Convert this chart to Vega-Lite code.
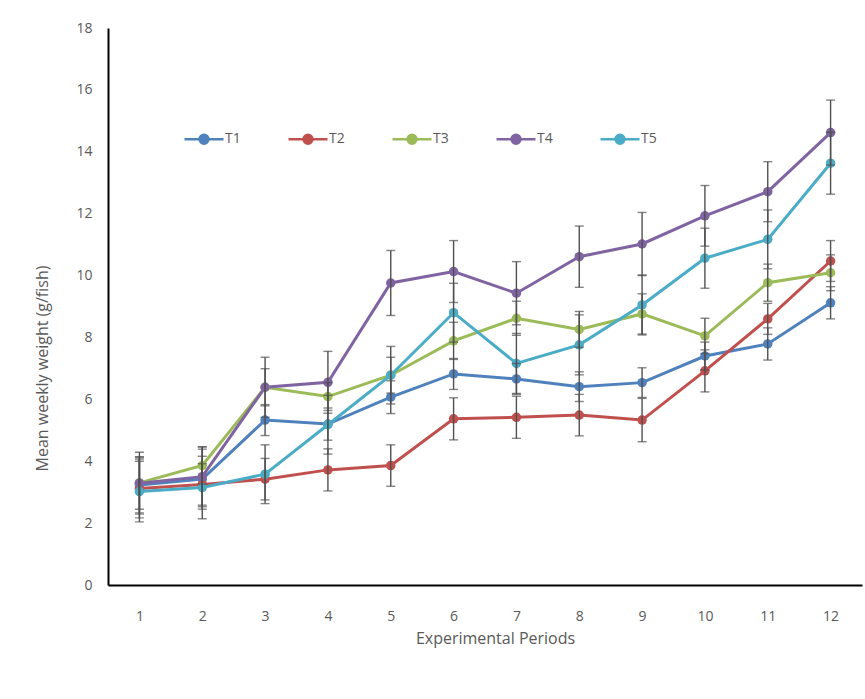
{
 "$schema": "https://vega.github.io/schema/vega-lite/v6.json",
 "width": 754, "height": 557,
 "autosize": {"type": "none"},
 "padding": {"left": 108, "top": 28, "right": 3, "bottom": 114},
 "background": "white",
 "config": {"view": {"stroke": null}, "font": "Open Sans"},
 "data": {"values": [
  {"period":1,"series":"T1","mean":3.23,"lo":2.33,"hi":4.13},
  {"period":2,"series":"T1","mean":3.42,"lo":2.45,"hi":4.39},
  {"period":3,"series":"T1","mean":5.33,"lo":4.83,"hi":5.83},
  {"period":4,"series":"T1","mean":5.20,"lo":4.68,"hi":5.72},
  {"period":5,"series":"T1","mean":6.07,"lo":5.54,"hi":6.60},
  {"period":6,"series":"T1","mean":6.82,"lo":6.32,"hi":7.32},
  {"period":7,"series":"T1","mean":6.66,"lo":6.16,"hi":7.16},
  {"period":8,"series":"T1","mean":6.41,"lo":5.93,"hi":6.89},
  {"period":9,"series":"T1","mean":6.54,"lo":6.06,"hi":7.02},
  {"period":10,"series":"T1","mean":7.40,"lo":6.95,"hi":7.85},
  {"period":11,"series":"T1","mean":7.79,"lo":7.27,"hi":8.31},
  {"period":12,"series":"T1","mean":9.12,"lo":8.60,"hi":9.64},
  {"period":1,"series":"T2","mean":3.12,"lo":2.17,"hi":4.07},
  {"period":2,"series":"T2","mean":3.25,"lo":2.58,"hi":3.92},
  {"period":3,"series":"T2","mean":3.42,"lo":2.75,"hi":4.09},
  {"period":4,"series":"T2","mean":3.72,"lo":3.04,"hi":4.40},
  {"period":5,"series":"T2","mean":3.86,"lo":3.19,"hi":4.53},
  {"period":6,"series":"T2","mean":5.37,"lo":4.69,"hi":6.05},
  {"period":7,"series":"T2","mean":5.42,"lo":4.74,"hi":6.10},
  {"period":8,"series":"T2","mean":5.49,"lo":4.82,"hi":6.16},
  {"period":9,"series":"T2","mean":5.33,"lo":4.63,"hi":6.03},
  {"period":10,"series":"T2","mean":6.92,"lo":6.24,"hi":7.60},
  {"period":11,"series":"T2","mean":8.60,"lo":8.10,"hi":9.10},
  {"period":12,"series":"T2","mean":10.47,"lo":9.81,"hi":11.13},
  {"period":1,"series":"T3","mean":3.30,"lo":2.45,"hi":4.15},
  {"period":2,"series":"T3","mean":3.86,"lo":3.26,"hi":4.46},
  {"period":3,"series":"T3","mean":6.39,"lo":5.79,"hi":6.99},
  {"period":4,"series":"T3","mean":6.09,"lo":5.64,"hi":6.54},
  {"period":5,"series":"T3","mean":6.78,"lo":6.20,"hi":7.36},
  {"period":6,"series":"T3","mean":7.89,"lo":7.29,"hi":8.49},
  {"period":7,"series":"T3","mean":8.62,"lo":8.07,"hi":9.17},
  {"period":8,"series":"T3","mean":8.26,"lo":7.68,"hi":8.84},
  {"period":9,"series":"T3","mean":8.76,"lo":8.11,"hi":9.41},
  {"period":10,"series":"T3","mean":8.05,"lo":7.48,"hi":8.62},
  {"period":11,"series":"T3","mean":9.77,"lo":9.17,"hi":10.37},
  {"period":12,"series":"T3","mean":10.09,"lo":9.51,"hi":10.67},
  {"period":1,"series":"T4","mean":3.29,"lo":2.29,"hi":4.29},
  {"period":2,"series":"T4","mean":3.50,"lo":2.53,"hi":4.47},
  {"period":3,"series":"T4","mean":6.39,"lo":5.42,"hi":7.36},
  {"period":4,"series":"T4","mean":6.55,"lo":5.55,"hi":7.55},
  {"period":5,"series":"T4","mean":9.76,"lo":8.71,"hi":10.81},
  {"period":6,"series":"T4","mean":10.13,"lo":9.13,"hi":11.13},
  {"period":7,"series":"T4","mean":9.43,"lo":8.41,"hi":10.45},
  {"period":8,"series":"T4","mean":10.61,"lo":9.62,"hi":11.60},
  {"period":9,"series":"T4","mean":11.02,"lo":10.00,"hi":12.04},
  {"period":10,"series":"T4","mean":11.93,"lo":10.95,"hi":12.91},
  {"period":11,"series":"T4","mean":12.71,"lo":11.74,"hi":13.68},
  {"period":12,"series":"T4","mean":14.62,"lo":13.57,"hi":15.67},
  {"period":1,"series":"T5","mean":3.02,"lo":2.04,"hi":4.00},
  {"period":2,"series":"T5","mean":3.15,"lo":2.14,"hi":4.16},
  {"period":3,"series":"T5","mean":3.58,"lo":2.63,"hi":4.53},
  {"period":4,"series":"T5","mean":5.18,"lo":4.23,"hi":6.13},
  {"period":5,"series":"T5","mean":6.78,"lo":5.85,"hi":7.71},
  {"period":6,"series":"T5","mean":8.80,"lo":7.85,"hi":9.75},
  {"period":7,"series":"T5","mean":7.16,"lo":6.19,"hi":8.13},
  {"period":8,"series":"T5","mean":7.76,"lo":6.79,"hi":8.73},
  {"period":9,"series":"T5","mean":9.05,"lo":8.08,"hi":10.02},
  {"period":10,"series":"T5","mean":10.56,"lo":9.59,"hi":11.53},
  {"period":11,"series":"T5","mean":11.17,"lo":10.22,"hi":12.12},
  {"period":12,"series":"T5","mean":13.63,"lo":12.63,"hi":14.63}
 ]},
 "encoding": {
  "x": {"field": "period", "type": "quantitative",
        "scale": {"domain": [0.5, 12.5], "nice": false, "zero": false},
        "axis": {"values": [1,2,3,4,5,6,7,8,9,10,11,12], "format": "d", "grid": false, "ticks": false,
                 "domainColor": "black", "domainWidth": 2, "labelColor": "#595959", "labelFontSize": 14,
                 "labelPadding": 24, "title": "Experimental Periods", "titleFontSize": 16,
                 "titleFontWeight": "normal", "titleColor": "#595959", "titlePadding": 7, "titleX": 387}}
 },
 "layer": [
  {"mark": {"type": "line", "strokeWidth": 3},
   "encoding": {
    "y": {"field": "mean", "type": "quantitative",
          "scale": {"domain": [0, 18], "nice": false},
          "axis": {"values": [0,2,4,6,8,10,12,14,16,18], "grid": false, "ticks": false,
                   "domainColor": "black", "domainWidth": 2, "labelColor": "#595959", "labelFontSize": 14,
                   "labelPadding": 16, "title": "Mean weekly weight (g/fish)", "titleFontSize": 16,
                   "titleFontWeight": "normal", "titleColor": "#595959", "titlePadding": 25, "titleY": 340}},
    "color": {"field": "series", "type": "nominal",
              "scale": {"domain": ["T1","T2","T3","T4","T5"], "range": ["#4F81BD","#C0504D","#9BBB59","#8064A2","#4BACC6"]},
              "legend": {"orient": "none", "legendX": 75, "legendY": 90, "direction": "horizontal", "title": null,
                         "symbolType": "M-1,0H1M0.23,0A0.23,0.23,0,1,1,-0.23,0A0.23,0.23,0,1,1,0.23,0",
                         "symbolSize": 1521, "symbolStrokeWidth": 2.5, "labelFontSize": 14, "labelColor": "#595959",
                         "labelOffset": 0, "columnPadding": 42}}
   }},
  {"mark": {"type": "point", "filled": true, "size": 90, "opacity": 1},
   "encoding": {
    "y": {"field": "mean", "type": "quantitative"},
    "color": {"field": "series", "type": "nominal"}
   }},
  {"mark": {"type": "rule", "color": "#505050", "strokeWidth": 1.4},
   "encoding": {"y": {"field": "lo", "type": "quantitative"}, "y2": {"field": "hi"}}},
  {"mark": {"type": "tick", "color": "#505050", "orient": "horizontal", "size": 9, "thickness": 1.4},
   "encoding": {"y": {"field": "lo", "type": "quantitative"}}},
  {"mark": {"type": "tick", "color": "#505050", "orient": "horizontal", "size": 9, "thickness": 1.4},
   "encoding": {"y": {"field": "hi", "type": "quantitative"}}}
 ]
}
